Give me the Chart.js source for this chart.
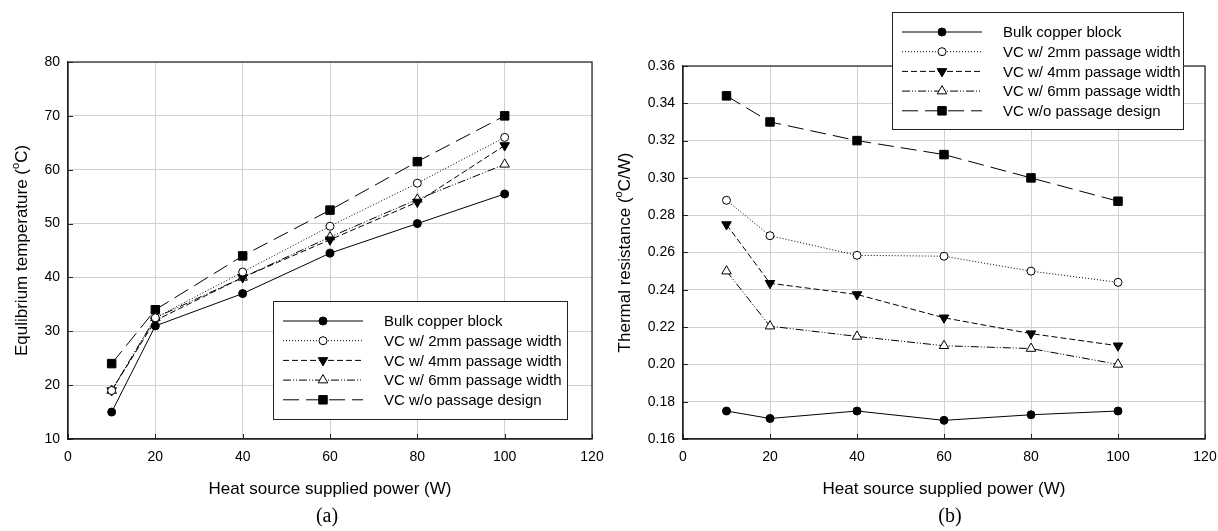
<!DOCTYPE html>
<html>
<head>
<meta charset="utf-8">
<script src="https://cdn.jsdelivr.net/npm/chart.js@4.4.1/dist/chart.umd.min.js"></script>
<style>
  html, body { margin: 0; padding: 0; background: #fff; }
  #wrap { position: relative; width: 1218px; height: 531px; }
  .panel { position: absolute; top: 0; width: 609px; height: 531px; }
</style>
</head>
<body>
<div id="wrap">
  <div class="panel" style="left:0"><canvas id="tempChart" width="609" height="531"></canvas></div>
  <div class="panel" style="left:609px"><canvas id="resChart" width="609" height="531"></canvas></div>
</div>
<script>
// ---- Data ----
const POWER = [10, 20, 40, 60, 80, 100];
const SERIES_NAMES = [
  "Bulk copper block",
  "VC w/ 2mm passage width",
  "VC w/ 4mm passage width",
  "VC w/ 6mm passage width",
  "VC w/o passage design",
];

// (a) equilibrium temperature, oC
const TEMP_BULK = [15, 31, 37, 44.5, 50, 55.5];
const TEMP_2MM  = [19, 32.5, 41, 49.5, 57.5, 66];
const TEMP_4MM  = [19, 32, 40, 47, 54, 64.5];
const TEMP_6MM  = [19, 32.5, 40, 47.5, 54.5, 61];
const TEMP_NONE = [24, 34, 44, 52.5, 61.5, 70];

// (b) thermal resistance, oC/W
const RES_BULK = [0.175, 0.171, 0.175, 0.170, 0.173, 0.175];
const RES_2MM  = [0.288, 0.269, 0.2585, 0.258, 0.250, 0.244];
const RES_4MM  = [0.275, 0.2435, 0.2375, 0.225, 0.2165, 0.210];
const RES_6MM  = [0.250, 0.2205, 0.215, 0.210, 0.2085, 0.200];
const RES_NONE = [0.344, 0.330, 0.320, 0.3125, 0.300, 0.2875];

// ---- Series styles ----
const STYLES = [
  { dash: [], pointStyle: "circle", radius: 4, fill: "#000", rotation: 0 },
  { dash: [1, 2], pointStyle: "circle", radius: 4, fill: "#fff", rotation: 0 },
  { dash: [6, 3], pointStyle: "triangle", radius: 5.5, fill: "#000", rotation: 180 },
  { dash: [8, 2, 1, 2, 1, 2], pointStyle: "triangle", radius: 5.5, fill: "#fff", rotation: 0 },
  { dash: [16, 7], pointStyle: "rect", radius: 6, fill: "#000", rotation: 0 },
];

const FONT = "'Liberation Sans', Arial, sans-serif";

function makeDatasets(seriesList) {
  return seriesList.map((vals, i) => {
    const s = STYLES[i];
    return {
      label: SERIES_NAMES[i],
      data: POWER.map((p, k) => ({ x: p, y: vals[k] })),
      borderColor: "#000",
      borderWidth: 1,
      borderDash: s.dash,
      pointStyle: s.pointStyle,
      pointRadius: s.radius,
      pointRotation: s.rotation,
      pointBackgroundColor: s.fill,
      pointBorderColor: "#000",
      pointBorderWidth: 1,
      tension: 0,
      fill: false,
    };
  });
}

function drawMarker(ctx, ds, x, y) {
  ctx.save();
  ctx.setLineDash([]);
  ctx.lineWidth = ds.pointBorderWidth;
  ctx.strokeStyle = ds.pointBorderColor;
  ctx.fillStyle = ds.pointBackgroundColor;
  Chart.helpers.drawPoint(ctx, {
    pointStyle: ds.pointStyle,
    rotation: ds.pointRotation,
    radius: ds.pointRadius,
    borderWidth: ds.pointBorderWidth,
  }, x, y);
  ctx.restore();
}

// frame, inward ticks, y title with superscript, caption, legend box
const decorPlugin = {
  id: "decor",
  afterDraw(chart, args, opts) {
    const ctx = chart.ctx;
    const a = chart.chartArea;
    const xs = chart.scales.x, ys = chart.scales.y;
    ctx.save();

    // inward tick marks
    ctx.strokeStyle = "#222";
    ctx.lineWidth = 1;
    ctx.beginPath();
    xs.ticks.forEach(t => {
      const px = Math.round(xs.getPixelForValue(t.value)) + 0.5;
      ctx.moveTo(px, a.bottom);
      ctx.lineTo(px, a.bottom - 5);
    });
    ys.ticks.forEach(t => {
      const py = Math.round(ys.getPixelForValue(t.value)) + 0.5;
      ctx.moveTo(a.left, py);
      ctx.lineTo(a.left + 5, py);
    });
    ctx.stroke();

    // frame
    ctx.lineWidth = 1.2;
    ctx.strokeRect(a.left, a.top, a.right - a.left, a.bottom - a.top);

    // y title, rotated, with a superscript "o"
    ctx.fillStyle = "#000";
    ctx.textBaseline = "middle";
    ctx.textAlign = "left";
    const big = "17px " + FONT, small = "11px " + FONT;
    const segs = opts.yTitle;
    let total = 0;
    segs.forEach(s => { ctx.font = s.sup ? small : big; total += ctx.measureText(s.text).width; });
    ctx.save();
    ctx.translate(opts.yTitleX, (a.top + a.bottom) / 2);
    ctx.rotate(-Math.PI / 2);
    let cx = -total / 2;
    segs.forEach(s => {
      ctx.font = s.sup ? small : big;
      ctx.fillText(s.text, cx, s.sup ? -6 : 0);
      cx += ctx.measureText(s.text).width;
    });
    ctx.restore();

    // caption
    ctx.font = "20px 'Liberation Serif', 'Times New Roman', serif";
    ctx.textAlign = "center";
    ctx.fillText(opts.caption, opts.captionX, 517);

    // legend
    const b = opts.legendBox;
    ctx.fillStyle = "#fff";
    ctx.fillRect(b.x, b.y, b.w, b.h);
    ctx.strokeStyle = "#222";
    ctx.lineWidth = 1;
    ctx.strokeRect(b.x + 0.5, b.y + 0.5, b.w, b.h);
    ctx.font = "15px " + FONT;
    ctx.textAlign = "left";
    chart.data.datasets.forEach((ds, i) => {
      const y = b.y + 20 + i * 19.7;
      ctx.save();
      ctx.strokeStyle = "#000";
      ctx.lineWidth = 1;
      ctx.setLineDash(ds.borderDash);
      ctx.beginPath();
      ctx.moveTo(b.x + 10, y);
      ctx.lineTo(b.x + 90, y);
      ctx.stroke();
      ctx.restore();
      drawMarker(ctx, ds, b.x + 50, y);
      ctx.fillStyle = "#000";
      ctx.fillText(ds.label, b.x + 111, y + 1);
    });
    ctx.restore();
  },
};

function makeChart(canvasId, seriesList, yCfg, layoutPad, decor) {
  return new Chart(document.getElementById(canvasId), {
    type: "line",
    data: { datasets: makeDatasets(seriesList) },
    plugins: [decorPlugin],
    options: {
      responsive: false,
      animation: false,
      events: [],
      layout: { padding: layoutPad },
      plugins: { legend: { display: false }, tooltip: { enabled: false }, decor: decor },
      scales: {
        x: {
          type: "linear", min: 0, max: 120,
          ticks: { stepSize: 20, padding: 10, color: "#000", font: { family: FONT, size: 14 } },
          grid: { color: "#d0d0d0", drawTicks: false },
          border: { color: "#222", width: 1.2 },
          title: {
            display: true, text: "Heat source supplied power (W)", color: "#000",
            font: { family: FONT, size: 17 }, padding: { top: 0, bottom: 31 },
          },
          afterFit: s => { s.height = 92; s.paddingLeft = 0; s.paddingRight = 0; },
        },
        y: {
          type: "linear", min: yCfg.min, max: yCfg.max,
          ticks: {
            stepSize: yCfg.step, padding: 8, color: "#000", font: { family: FONT, size: 14 },
            callback: v => v.toFixed(yCfg.digits),
          },
          grid: { color: "#d0d0d0", drawTicks: false },
          border: { color: "#222", width: 1.2 },
          afterFit: s => { s.width = yCfg.axisWidth; s.paddingTop = 0; s.paddingBottom = 0; },
        },
      },
    },
  });
}

makeChart("tempChart",
  [TEMP_BULK, TEMP_2MM, TEMP_4MM, TEMP_6MM, TEMP_NONE],
  { min: 10, max: 80, step: 10, digits: 0, axisWidth: 68 },
  { top: 62, right: 17, bottom: 0, left: 0 },
  {
    yTitle: [{ text: "Equlibrium temperature (" }, { text: "o", sup: true }, { text: "C)" }],
    yTitleX: 22, caption: "(a)", captionX: 327,
    legendBox: { x: 273, y: 301, w: 294, h: 118 },
  });

makeChart("resChart",
  [RES_BULK, RES_2MM, RES_4MM, RES_6MM, RES_NONE],
  { min: 0.16, max: 0.36, step: 0.02, digits: 2, axisWidth: 74 },
  { top: 66, right: 13, bottom: 0, left: 0 },
  {
    yTitle: [{ text: "Thermal resistance (" }, { text: "o", sup: true }, { text: "C/W)" }],
    yTitleX: 16, caption: "(b)", captionX: 341,
    legendBox: { x: 283, y: 12, w: 291, h: 117 },
  });
</script>
</body>
</html>
